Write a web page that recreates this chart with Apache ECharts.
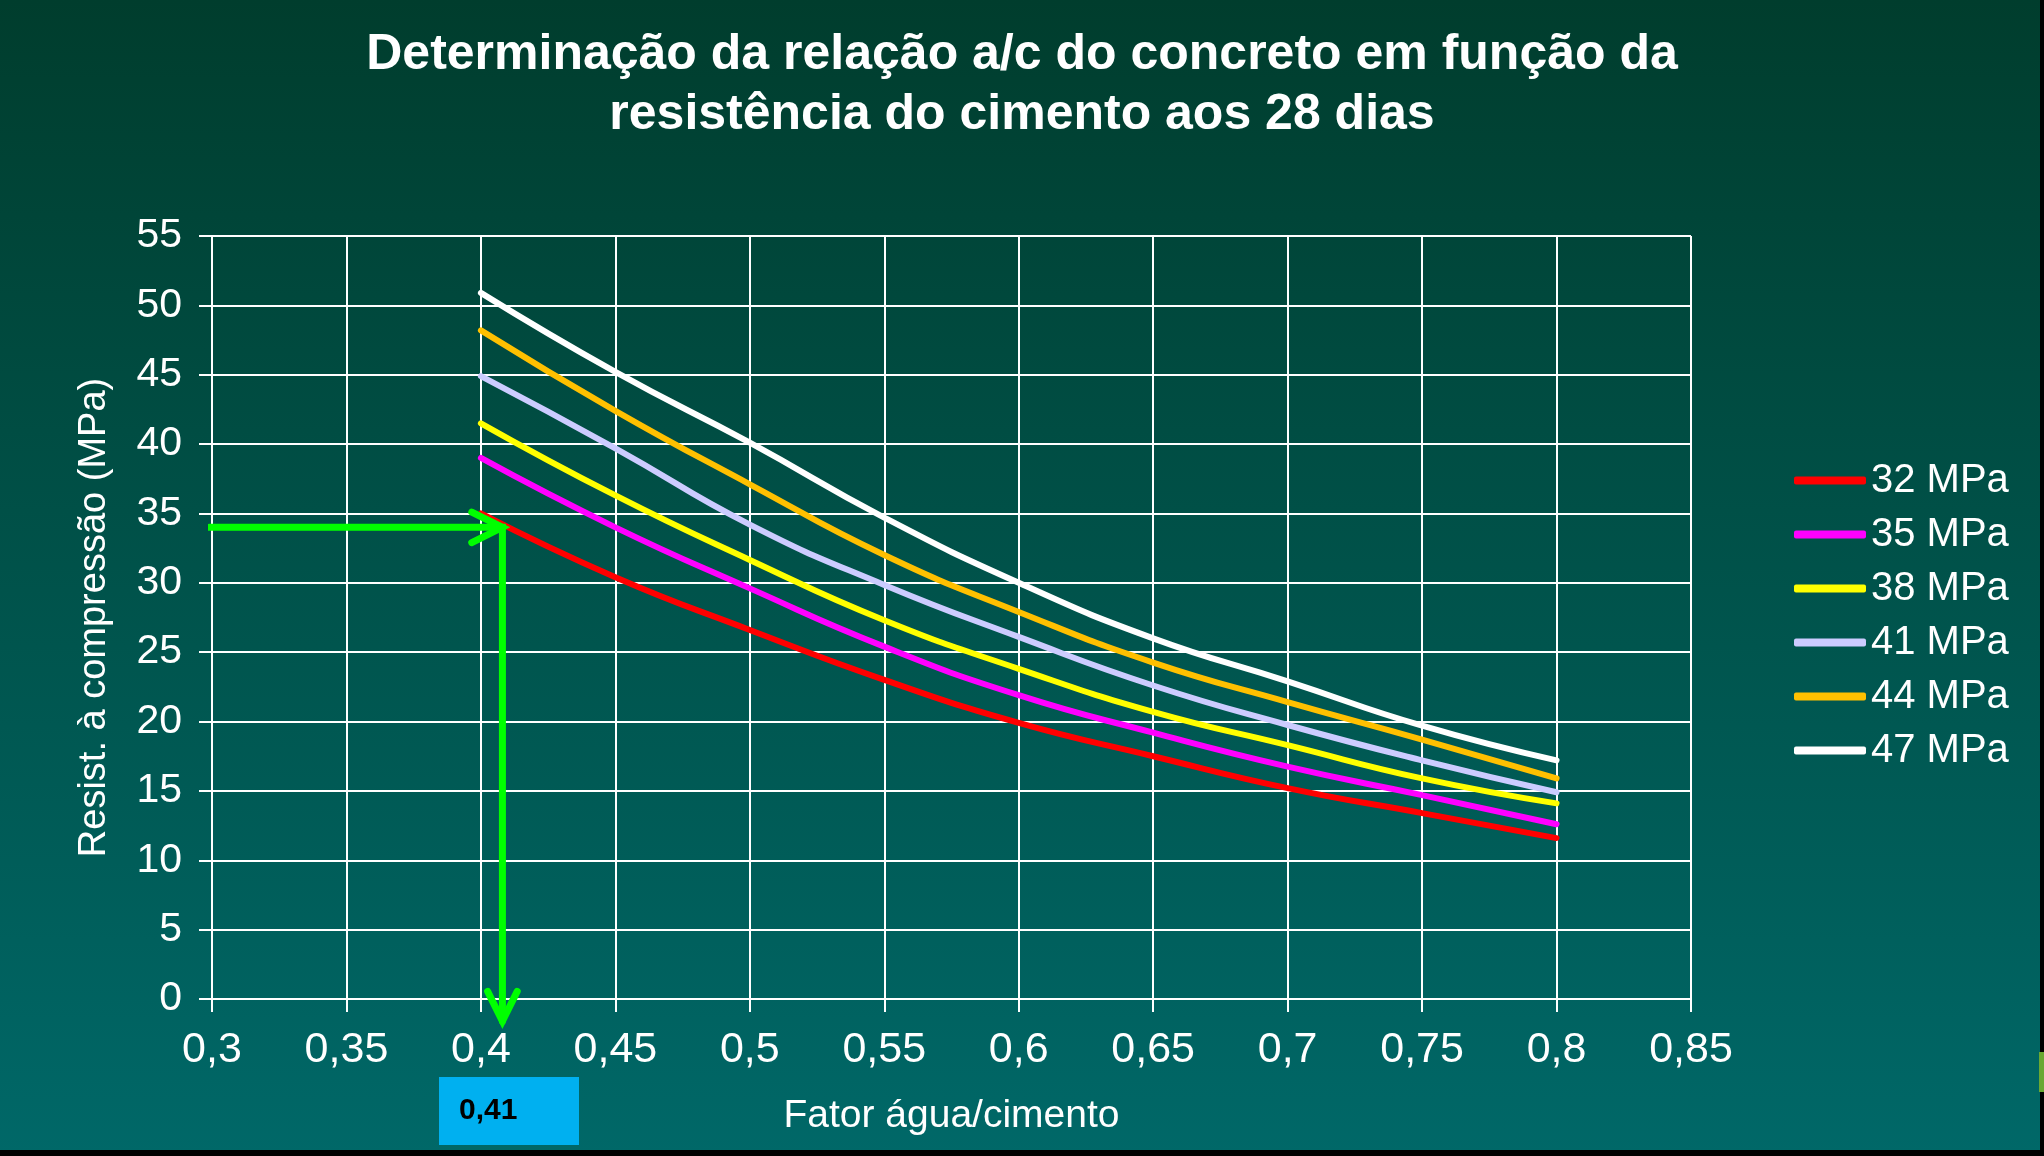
<!DOCTYPE html>
<html>
<head>
<meta charset="utf-8">
<script src="https://cdn.jsdelivr.net/npm/echarts@6/dist/echarts.min.js"></script>
<style>
html,body{margin:0;padding:0;background:#000;}
#chart{width:2044px;height:1156px;}
</style>
</head>
<body>
<div id="chart"></div>
<script>
// ---- data ----
const xValues = [0.4, 0.45, 0.5, 0.55, 0.6, 0.65, 0.7, 0.75, 0.8];
const seriesNames = ['32 MPa', '35 MPa', '38 MPa', '41 MPa', '44 MPa', '47 MPa'];
const s32 = [35.0, 30.4, 26.6, 23.0, 19.9, 17.5, 15.2, 13.4, 11.6];
const s35 = [39.0, 34.0, 29.6, 25.4, 21.9, 19.2, 16.75, 14.7, 12.6];
const s38 = [41.5, 36.3, 31.65, 27.3, 23.8, 20.7, 18.3, 15.9, 14.1];
const s41 = [44.9, 39.7, 34.2, 29.85, 26.1, 22.6, 19.75, 17.2, 14.9];
const s44 = [48.2, 42.4, 37.1, 32.0, 27.9, 24.25, 21.4, 18.7, 15.9];
const s47 = [50.9, 45.2, 40.1, 34.7, 30.0, 26.0, 22.9, 19.7, 17.2];
const seriesColors = ['#FF0000', '#FF00FF', '#FFFF00', '#CCCCFF', '#FFC000', '#FFFFFF'];

// reading annotation (a/c = 0,41 for 34 MPa)
const arrowLine = [[0.299, 34], [0.408, 34], [0.408, -1.6]];
const arrowHeadRight = [[0.3966, 35.1], [0.408, 34], [0.3966, 32.9]];
const arrowHeadDown = [[0.4025, 0.55], [0.408, -1.6], [0.4135, 0.55]];
const readLabel = '0,41';

const titleText = 'Determinação da relação a/c do concreto em função da\nresistência do cimento aos 28 dias';
const xName = 'Fator água/cimento';
const yName = 'Resist. à compressão (MPa)';

// ---- chart ----
const chart = echarts.init(document.getElementById('chart'));
const allSeries = [s32, s35, s38, s41, s44, s47];
const fmt = v => String(Math.round(v * 100) / 100).replace('.', ',');
const FONT = '"Liberation Sans", Arial, sans-serif';

const series = allSeries.map((arr, i) => ({
  name: seriesNames[i],
  type: 'line',
  data: arr.map((v, j) => [xValues[j], v]),
  smooth: 0.5,
  showSymbol: false,
  symbol: 'none',
  lineStyle: { color: seriesColors[i], width: 6, cap: 'round', join: 'round' },
  itemStyle: { color: seriesColors[i] },
  z: 3
}));

[arrowLine, arrowHeadRight, arrowHeadDown].forEach((arr, k) => {
  series.push({
    name: 'arrow' + k,
    type: 'line',
    data: arr,
    clip: false,
    showSymbol: false,
    symbol: 'none',
    silent: true,
    lineStyle: { color: '#00FF00', width: 7, cap: 'round', join: 'miter' },
    z: 5
  });
});

chart.setOption({
  animation: false,
  backgroundColor: {
    type: 'linear', x: 0, y: 0, x2: 0, y2: 1,
    colorStops: [{ offset: 0, color: '#003d2d' }, { offset: 1, color: '#006868' }]
  },
  title: {
    text: titleText,
    left: 'center',
    top: 20,
    textStyle: { color: '#ffffff', fontFamily: FONT, fontWeight: 'bold', fontSize: 50, lineHeight: 60 }
  },
  legend: {
    data: seriesNames,
    orient: 'vertical',
    left: 1794,
    top: 458,
    padding: 0,
    itemWidth: 72,
    itemHeight: 8,
    itemGap: 9,
    icon: 'roundRect',
    textStyle: { color: '#ffffff', fontFamily: FONT, fontSize: 40, lineHeight: 45 }
  },
  grid: { left: 212, right: 353, top: 236, bottom: 157 },
  xAxis: {
    type: 'value',
    min: 0.3, max: 0.85, interval: 0.05,
    name: xName,
    nameLocation: 'middle',
    nameGap: 98,
    nameTextStyle: { color: '#ffffff', fontFamily: FONT, fontSize: 39 },
    axisLine: { show: true, lineStyle: { color: '#ffffff', width: 2 } },
    axisTick: { show: true, length: 13, lineStyle: { color: '#ffffff', width: 2 } },
    axisLabel: { color: '#ffffff', fontFamily: FONT, fontSize: 43, margin: 30, formatter: fmt },
    splitLine: { show: true, lineStyle: { color: '#ffffff', width: 2 } }
  },
  yAxis: {
    type: 'value',
    min: 0, max: 55, interval: 5,
    name: yName,
    nameLocation: 'middle',
    nameGap: 98,
    nameTextStyle: { color: '#ffffff', fontFamily: FONT, fontSize: 38 },
    axisLine: { show: true, lineStyle: { color: '#ffffff', width: 2 } },
    axisTick: { show: true, length: 13, lineStyle: { color: '#ffffff', width: 2 } },
    axisLabel: { color: '#ffffff', fontFamily: FONT, fontSize: 41, margin: 30 },
    splitLine: { show: true, lineStyle: { color: '#ffffff', width: 2 } }
  },
  graphic: [
    { type: 'rect', shape: { x: 439, y: 1077, width: 140, height: 68 }, style: { fill: '#00B0F0' }, z: 10 },
    { type: 'text', x: 459, y: 1111, style: { text: readLabel, fill: '#000000', font: 'bold 30px ' + FONT, textVerticalAlign: 'middle' }, z: 11 },
    { type: 'rect', shape: { x: 0, y: 1150, width: 2044, height: 6 }, style: { fill: '#000000' }, z: 10 },
    { type: 'rect', shape: { x: 2040, y: 0, width: 4, height: 1156 }, style: { fill: '#000000' }, z: 10 },
    { type: 'rect', shape: { x: 2039, y: 1052, width: 5, height: 40 }, style: { fill: '#6aa832' }, z: 11 }
  ],
  series: series
});
</script>
</body>
</html>
